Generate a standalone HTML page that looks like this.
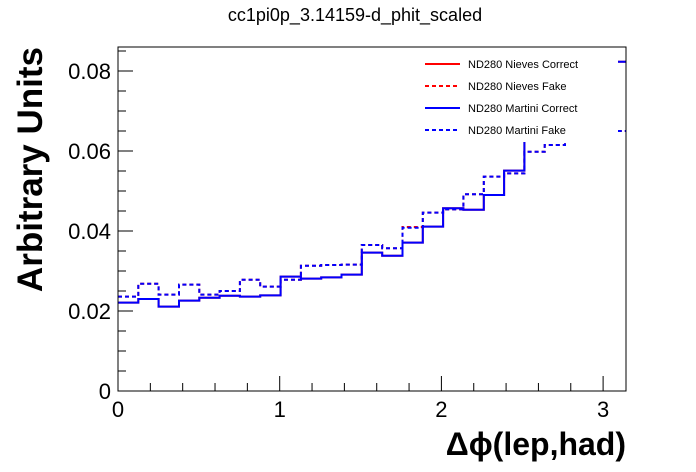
<!DOCTYPE html>
<html><head><meta charset="utf-8"><style>
body{margin:0;background:#fff;}
svg{display:block;font-family:"Liberation Sans",Arial,sans-serif;}
</style></head><body>
<svg id="chart" width="696" height="472" viewBox="0 0 696 472" xmlns="http://www.w3.org/2000/svg">
<rect width="696" height="472" fill="#fff"/>
<text x="355" y="21" font-size="18" text-anchor="middle">cc1pi0p_3.14159-d_phit_scaled</text>
<g id="hists"></g>
<rect x="412" y="52" width="206" height="90" fill="#fff"/>
<g font-size="11">
 <line x1="425" y1="64" x2="460" y2="64" stroke="#f00" stroke-width="2"/>
 <text x="468" y="68">ND280 Nieves Correct</text>
 <line x1="425" y1="86" x2="460" y2="86" stroke="#f00" stroke-width="2" stroke-dasharray="4,3"/>
 <text x="468" y="90">ND280 Nieves Fake</text>
 <line x1="425" y1="108" x2="460" y2="108" stroke="#00f" stroke-width="2"/>
 <text x="468" y="112">ND280 Martini Correct</text>
 <line x1="425" y1="130" x2="460" y2="130" stroke="#00f" stroke-width="2" stroke-dasharray="4,3"/>
 <text x="468" y="134">ND280 Martini Fake</text>
</g>
<g id="axes"></g>
<text transform="translate(42,47) rotate(-90)" font-size="35" font-weight="bold" text-anchor="end">Arbitrary Units</text>
<text x="626" y="455" font-size="32" font-weight="bold" text-anchor="end">Δϕ(lep,had)</text>
</svg>
<script>
const nBins = 25;
const xMin = 0, xMax = Math.PI;
const nievesCorrect = [0.0221,0.0230,0.0211,0.0226,0.0233,0.0238,0.0236,0.0239,0.0286,0.0281,0.0284,0.0291,0.0346,0.0338,0.0371,0.0411,0.0457,0.0453,0.0490,0.0551,0.0640,0.0670,0.0715,0.0765,0.0823];
const nievesFake = [0.0236,0.0268,0.0241,0.0266,0.0241,0.0250,0.0278,0.0261,0.0278,0.0313,0.0315,0.0316,0.0365,0.0357,0.0410,0.0446,0.0454,0.0492,0.0536,0.0544,0.0598,0.0615,0.0640,0.0660,0.0650];
const martiniCorrect = [0.0221,0.0230,0.0211,0.0226,0.0233,0.0238,0.0236,0.0239,0.0286,0.0281,0.0284,0.0291,0.0346,0.0338,0.0371,0.0411,0.0457,0.0453,0.0490,0.0551,0.0640,0.0670,0.0715,0.0765,0.0823];
const martiniFake = [0.0236,0.0268,0.0241,0.0266,0.0241,0.0250,0.0278,0.0261,0.0278,0.0313,0.0315,0.0316,0.0365,0.0357,0.0408,0.0446,0.0454,0.0492,0.0536,0.0544,0.0598,0.0615,0.0640,0.0660,0.0650];
const xTicks = [0,1,2,3];
const yTicks = [0,0.02,0.04,0.06,0.08];
const yTickLabels = ["0","0.02","0.04","0.06","0.08"];

const L=118,R=626,T=47,B=391,yMax=0.086;
const sx=v=>L+(v-xMin)/(xMax-xMin)*(R-L);
const sy=v=>B-v/yMax*(B-T);
const NS="http://www.w3.org/2000/svg";
function mk(tag,attrs,parent){const e=document.createElementNS(NS,tag);for(const k in attrs)e.setAttribute(k,attrs[k]);parent.appendChild(e);return e;}
const hg=document.getElementById('hists');
function hist(vals,color,dash,name){
  let d="";
  for(let i=0;i<nBins;i++){
    const x0=sx(xMin+i*(xMax-xMin)/nBins),x1=sx(xMin+(i+1)*(xMax-xMin)/nBins),y=sy(vals[i]);
    d+=(i===0?"M":"L")+x0.toFixed(1)+","+y.toFixed(1)+"L"+x1.toFixed(1)+","+y.toFixed(1);
  }
  const p=mk('path',{d:d,fill:'none',stroke:color,'stroke-width':2},hg);
  if(dash)p.setAttribute('stroke-dasharray','4,3');
  
  
}
hist(nievesCorrect,'#f00',false,'series-nieves-correct');
hist(nievesFake,'#f00',true,'series-nieves-fake');
hist(martiniCorrect,'#00f',false,'series-martini-correct');
hist(martiniFake,'#00f',true,'series-martini-fake');

const ax=document.getElementById('axes');
const frame=mk('rect',{x:L,y:T,width:R-L,height:B-T,fill:'none',stroke:'#000','stroke-width':1},ax);


for(let v=0;v<=3.1416;v+=0.2){
  const isMaj=Math.abs(v-Math.round(v))<1e-6;
  mk('line',{x1:sx(v),x2:sx(v),y1:B,y2:B-(isMaj?15:8),stroke:'#000'},ax);
}
xTicks.forEach(v=>{
  const t=mk('text',{x:sx(v),y:B+26,'font-size':22,'text-anchor':'middle'},ax);
  t.textContent=String(v);
  
  
});
for(let v=0;v<=yMax+1e-9;v+=0.005){
  const isMaj=Math.abs(v/0.02-Math.round(v/0.02))<1e-6;
  mk('line',{x1:L,x2:L+(isMaj?15:8),y1:sy(v),y2:sy(v),stroke:'#000'},ax);
}
yTicks.forEach((v,i)=>{
  const t=mk('text',{x:L-7,y:sy(v)+8,'font-size':22,'text-anchor':'end'},ax);
  t.textContent=yTickLabels[i];
  
  
});
</script>
</body></html>
